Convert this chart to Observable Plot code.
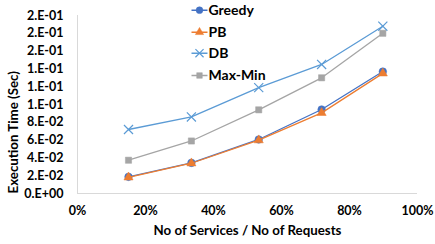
<!DOCTYPE html>
<html><head><meta charset="utf-8">
<script src="https://cdn.jsdelivr.net/npm/d3@7"></script>
<script src="https://cdn.jsdelivr.net/npm/@observablehq/plot@0.6"></script>
<style>
body{margin:0;background:#fff;}
svg{font-family:Lato, "Open Sans", sans-serif;font-weight:bold;}
</style>
</head><body><div id="chart"></div>
<script>
const ratios = [0.15, 0.335, 0.533, 0.718, 0.898];
const greedy = [0.0187, 0.0344, 0.0607, 0.0944, 0.137];
const pb = [0.0182, 0.0340, 0.0599, 0.0906, 0.135];
const db = [0.0719, 0.0860, 0.119, 0.145, 0.188];
const maxmin = [0.0374, 0.0590, 0.094, 0.130, 0.180];
const seriesNames = ["Greedy", "PB", "DB", "Max-Min"];
const seriesColors = ["#4472C4", "#ED7D31", "#5B9BD5", "#A5A5A5"];
const seriesSymbols = ["circle", "triangle", "times", "square"];
const yTicks = [0, 0.02, 0.04, 0.06, 0.08, 0.10, 0.12, 0.14, 0.16, 0.18, 0.20];
const xTicks = [0, 0.2, 0.4, 0.6, 0.8, 1.0];

const seriesValues = [greedy, pb, db, maxmin];
const data = [];
seriesNames.forEach((s, i) => ratios.forEach((r, j) => data.push({series: s, x: r, y: seriesValues[i][j]})));

function excelExp(v) {
  const s = v.toExponential(0);
  const [m, e] = s.split("e");
  const en = +e;
  const sign = en < 0 ? "-" : "+";
  return m + ".E" + sign + String(Math.abs(en)).padStart(2, "0");
}

const M = {left: 77, right: 18, top: 15, bottom: 51};
const legendDX = 122, legendDYs = [-5.3, 16.7, 37.7, 60];
const symR = {circle: 3.8, triangle: 3.4, times: 4.2, square: 3.5};

const marks = [
  Plot.ruleX([0], {stroke: "#d9d9d9", strokeWidth: 1}),
  Plot.ruleY([0], {stroke: "#d9d9d9", strokeWidth: 1})
];
seriesNames.forEach((s, i) => {
  const d = data.filter(r => r.series === s);
  const c = seriesColors[i];
  const sym = seriesSymbols[i];
  const isStroke = sym === "times";
  const r = symR[sym];
  marks.push(Plot.line(d, {x: "x", y: "y", stroke: c, strokeWidth: 1.3}));
  marks.push(Plot.dot(d, {x: "x", y: "y", symbol: () => sym, r, fill: isStroke ? "none" : c, stroke: c, strokeWidth: isStroke ? 1.2 : 0.5}));
});
const legendLineSym = {draw(ctx) { ctx.moveTo(-8, 0); ctx.lineTo(8, 0); ctx.closePath(); }};
seriesNames.forEach((s, i) => {
  const c = seriesColors[i];
  const sym = seriesSymbols[i];
  const isStroke = sym === "times";
  const dy = legendDYs[i];
  marks.push(Plot.dot([s], {frameAnchor: "top-left", dx: legendDX, dy, symbol: legendLineSym, r: 4, fill: "none", stroke: c, strokeWidth: 1.5}));
  marks.push(Plot.dot([s], {frameAnchor: "top-left", dx: legendDX, dy, symbol: () => sym, r: symR[sym] * 0.9, fill: isStroke ? "none" : c, stroke: c, strokeWidth: isStroke ? 1.2 : 0.5}));
  marks.push(Plot.text([s], {frameAnchor: "top-left", dx: 131, dy, text: d => d, textAnchor: "start", lineAnchor: "middle", fontSize: 14, fontWeight: "bold", fill: "#000"}));
});

const chart = Plot.plot({
  width: 435, height: 244,
  marginLeft: M.left, marginRight: M.right, marginTop: M.top, marginBottom: M.bottom,
  style: {fontSize: "12.5px", color: "#000", background: "#fff"},
  x: {domain: [0, 1], ticks: xTicks, tickFormat: d3.format(".0%"), tickSize: 0, tickPadding: 13, label: null},
  y: {domain: [0, 0.2], ticks: yTicks, tickFormat: excelExp, tickSize: 0, tickPadding: 14, label: null},
  marks: [
    ...marks,
    Plot.text(["Execution Time (Sec)"], {frameAnchor: "bottom-left", dx: -64, dy: 0, rotate: -90, textAnchor: "start", lineAnchor: "middle", text: d => d, fontSize: 13.3, fontWeight: "bold", fill: "#000"}),
    Plot.text(["No of Services / No of Requests"], {frameAnchor: "bottom", dy: 37, textAnchor: "middle", lineAnchor: "middle", text: d => d, fontSize: 13.3, fontWeight: "bold", fill: "#000"})
  ]
});
document.getElementById("chart").appendChild(chart);
</script>
</body></html>
